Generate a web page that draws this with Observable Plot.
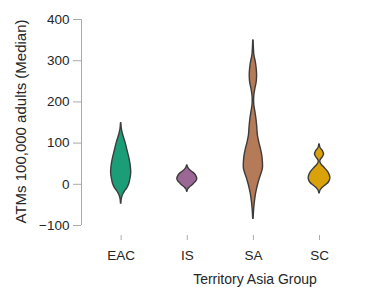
<!DOCTYPE html>
<html>
<head>
<meta charset="utf-8">
<script src="https://cdn.jsdelivr.net/npm/d3@7"></script>
<script src="https://cdn.jsdelivr.net/npm/@observablehq/plot@0.6"></script>
<style>
  html, body { margin: 0; padding: 0; background: #fff; }
</style>
</head>
<body>
<div id="chart"></div>
<script>
// Categories and colours
const cats = ["EAC", "IS", "SA", "SC"];
const catColors = ["#1b9e77", "#9b6896", "#b57a58", "#d9a20a"];
const yTicks = [-100, 0, 100, 200, 300, 400];
const xTitle = "Territory Asia Group";
const yTitle = "ATMs 100,000 adults (Median)";

// Violin profiles: value (ATMs) and relative density
const eacV = [148, 135, 122, 100, 82, 60, 40, 25, 10, 0, -8, -15, -23, -30, -38, -47];
const eacD = [0.2, 0.6, 1.7, 4.5, 6.3, 8.5, 9.8, 10, 9, 8, 6.5, 4.5, 2.5, 1.2, 0.5, 0.2];

const isV = [46, 40, 35, 30, 25, 20, 13, 7, 2, -3, -8, -12, -18];
const isD = [0.2, 1, 2.5, 5, 7.5, 9, 10, 9, 7, 5, 2.5, 1, 0.2];

const saV = [349, 330, 313, 295, 280, 264, 248, 232, 215, 205, 192, 175, 159, 140, 118, 100, 86, 70, 54, 38, 25, 13, 0, -11, -25, -43, -60, -84];
const saD = [0.2, 0.5, 1, 2.5, 3.3, 3.7, 3.3, 2, 0.9, 0.7, 0.9, 2, 3, 3.8, 4.5, 6, 7.5, 8.8, 9.5, 9.5, 8, 6.3, 4.8, 3.7, 2.5, 1.5, 0.8, 0.2];

const scV = [97, 88, 80, 72, 65, 58, 54, 48, 40, 30, 20, 13, 5, -3, -10, -15, -22];
const scD = [0.2, 1, 3.5, 4.5, 3, 1, 0.8, 2, 5, 8.5, 10.5, 10.8, 9.5, 6, 2.5, 1, 0.2];

const profiles = [[eacV, eacD], [isV, isD], [saV, saD], [scV, scD]];
const rows = [];
profiles.forEach(([vs, ds], i) => {
  vs.forEach((v, j) => rows.push({cat: cats[i], i, v, d: ds[j]}));
});

const k = 1 / 66.1; // density -> category units
const xDomain = [-0.6, 3.408];

const chart = Plot.plot({
  width: 366,
  height: 287,
  marginLeft: 81,
  marginRight: 20,
  marginTop: 19,
  marginBottom: 62,
  style: {fontFamily: "'Liberation Sans', Arial, sans-serif", fontSize: "14px", background: "#fff", color: "#262626"},
  x: {domain: xDomain, axis: null},
  y: {domain: [yTicks[0], yTicks[yTicks.length - 1]], axis: null},
  color: {domain: cats, range: catColors},
  marks: [
    Plot.ruleX([xDomain[0]], {y1: yTicks[0], y2: yTicks[yTicks.length - 1], stroke: "#aaa", strokeWidth: 1}),
    Plot.axisY({ticks: yTicks, tickSize: 8, tickPadding: 4, stroke: "#aaa", fill: "#262626", label: null, fontSize: 13.5}),
    Plot.axisX({ticks: [0, 1, 2, 3], tickFormat: i => cats[i], tickSize: 5, tickPadding: 10, dy: 10, stroke: "#aaa", fill: "#262626", label: null, fontSize: 13.5}),
    Plot.areaX(rows, {
      y: "v",
      x1: d => d.i - d.d * k,
      x2: d => d.i + d.d * k,
      z: "cat",
      fill: "cat",
      stroke: "#3c3c3c",
      strokeWidth: 1.4,
      curve: "catmull-rom"
    }),
    Plot.text([yTitle], {frameAnchor: "left", dx: -60, dy: -1, rotate: -90, textAnchor: "middle", fontSize: 15, fill: "#262626"}),
    Plot.text([xTitle], {frameAnchor: "bottom", dx: 41, dy: 58, fontSize: 14, fill: "#262626"})
  ]
});
document.getElementById("chart").appendChild(chart);
</script>
</body>
</html>
